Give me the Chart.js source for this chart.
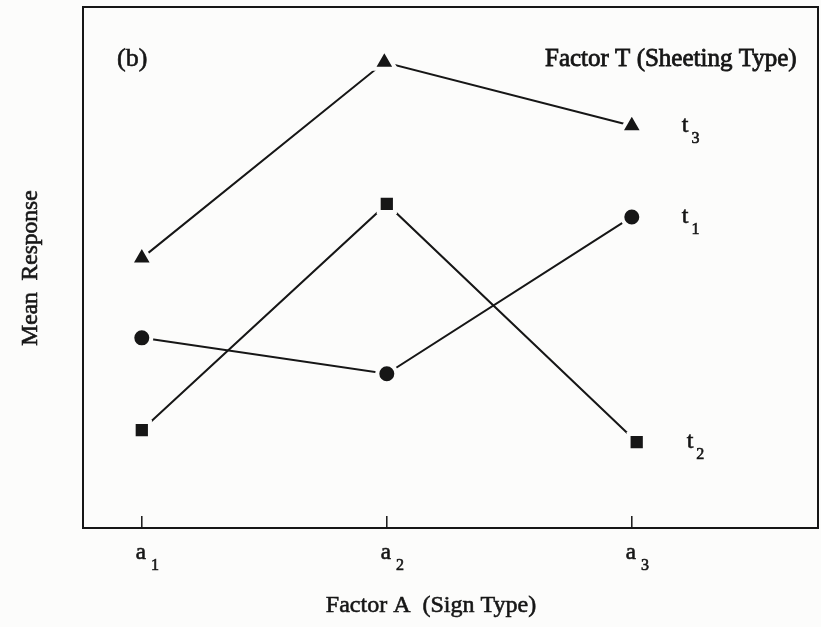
<!DOCTYPE html>
<html>
<head>
<meta charset="utf-8">
<script src="https://cdn.jsdelivr.net/npm/chart.js@4/dist/chart.umd.min.js"></script>
<style>
  html, body { margin: 0; padding: 0; background: #fcfcfb; }
  canvas { display: block; }
</style>
</head>
<body>
<canvas id="c" width="821" height="627"></canvas>
<script>
// ---- data ----
const xTickValues = [1, 2, 3];
const xTickLabels = ['a1', 'a2', 'a3'];
const seriesNames = ['t1', 't2', 't3'];
const t1X = [1, 2, 3];
const t1Y = [36.5, 29.6, 59.7];      // circles
const t2X = [1, 2, 3.02];
const t2Y = [18.8, 62.2, 16.5];      // squares
const t3X = [1, 1.99, 3];
const t3Y = [51.8, 89.4, 77.2];      // triangles
const xTitle = 'Factor A  (Sign Type)';
const yTitle = 'Mean  Response';
const panelLabel = '(b)';
const legendTitle = 'Factor T (Sheeting Type)';

const INK = '#161616';
const FONT = '"Liberation Serif", "Times New Roman", serif';

function pts(xs, ys) { return xs.map((x, i) => ({ x: x, y: ys[i] })); }

const ds = (label, xs, ys, style, radius) => ({
  label: label,
  data: pts(xs, ys),
  borderColor: INK,
  borderWidth: 2,
  pointStyle: style,
  pointRadius: radius,
  pointBackgroundColor: INK,
  pointBorderColor: '#fcfcfb',
  pointBorderWidth: 4,
  tension: 0,
  fill: false
});

function heavyText(ctx, s, x, y) {
  ctx.fillText(s, x, y);
  ctx.strokeText(s, x, y);
}

function subText(ctx, main, sub, x, y, mainSize, subSize, dx, dy) {
  ctx.font = mainSize + 'px ' + FONT;
  ctx.textAlign = 'left';
  ctx.textBaseline = 'alphabetic';
  const w = ctx.measureText(main).width;
  heavyText(ctx, main, x, y);
  ctx.font = subSize + 'px ' + FONT;
  heavyText(ctx, sub, x + w + dx, y + dy);
}

const decor = {
  id: 'decor',
  afterDatasetsDraw(chart) {
    const ctx = chart.ctx;
    const a = chart.chartArea;
    const xs = chart.scales.x;
    ctx.save();
    ctx.strokeStyle = INK;
    ctx.fillStyle = INK;
    // frame
    ctx.lineWidth = 2;
    ctx.strokeRect(a.left, a.top, a.right - a.left, a.bottom - a.top);
    // inward tick marks
    ctx.lineWidth = 1.5;
    xTickValues.forEach((v) => {
      const px = xs.getPixelForValue(v);
      ctx.beginPath();
      ctx.moveTo(px, a.bottom);
      ctx.lineTo(px, a.bottom - 12);
      ctx.stroke();
    });
    // text (slightly heavy, like the printed original)
    ctx.lineWidth = 0.6;
    xTickValues.forEach((v, i) => {
      const px = xs.getPixelForValue(v);
      const lab = xTickLabels[i];
      subText(ctx, lab[0], lab.slice(1), px - 6, a.bottom + 31, 23, 16, 5, 11);
    });
    // axis titles
    ctx.font = '24px ' + FONT;
    ctx.textAlign = 'center';
    ctx.textBaseline = 'middle';
    heavyText(ctx, xTitle, 431, 606);
    ctx.save();
    ctx.translate(31, 268);
    ctx.rotate(-Math.PI / 2);
    ctx.font = '23.5px ' + FONT;
    heavyText(ctx, yTitle, 0, 0);
    ctx.restore();
    // panel label and legend title
    ctx.textAlign = 'left';
    ctx.font = '26px ' + FONT;
    heavyText(ctx, panelLabel, 117, 59);
    ctx.font = '25px ' + FONT;
    ctx.lineWidth = 0.8;
    heavyText(ctx, legendTitle, 545, 59);
    ctx.lineWidth = 0.6;
    // series end labels
    chart.data.datasets.forEach((d, i) => {
      const meta = chart.getDatasetMeta(i);
      const last = meta.data[meta.data.length - 1];
      const name = seriesNames[i];
      subText(ctx, name[0], name.slice(1), last.x + 50, last.y + 6, 24, 16, 3, 11);
    });
    ctx.restore();
  }
};

new Chart(document.getElementById('c'), {
  type: 'line',
  data: {
    datasets: [
      ds(seriesNames[0], t1X, t1Y, 'circle', 9.5),
      ds(seriesNames[1], t2X, t2Y, 'rect', 11.5),
      ds(seriesNames[2], t3X, t3Y, 'triangle', 13)
    ]
  },
  options: {
    responsive: false,
    animation: false,
    layout: { autoPadding: false, padding: { left: 83, top: 7, right: 3, bottom: 99 } },
    plugins: { legend: { display: false }, tooltip: { enabled: false } },
    scales: {
      x: { type: 'linear', min: 0.76, max: 3.76, display: false },
      y: { type: 'linear', min: 0, max: 100, display: false }
    }
  },
  plugins: [decor]
});
</script>
</body>
</html>
